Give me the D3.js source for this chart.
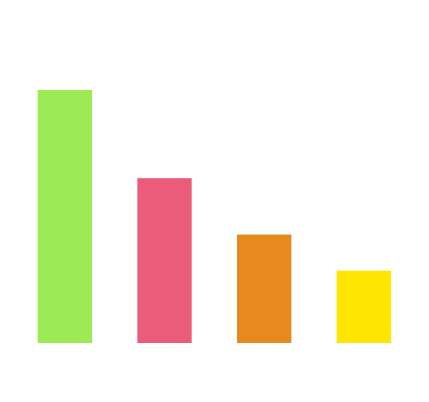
<!DOCTYPE html>
<html>
<head>
<meta charset="utf-8">
<script src="https://cdn.jsdelivr.net/npm/d3@7"></script>
<style>
  body { margin: 0; background: #fff; }
</style>
</head>
<body>
<svg id="chart"></svg>
<script>
// data
var categories = ["A", "B", "C", "D"];
var values = [35, 22.8, 15, 10];
var colors = ["#9ceb54", "#eb5b7a", "#e6891e", "#ffe500"];

var width = 429, height = 402;

var svg = d3.select("#chart")
    .attr("width", width)
    .attr("height", height);

var x = d3.scaleBand()
    .domain(categories)
    .range([14.7, 414])
    .paddingInner(0.455)
    .paddingOuter(0.23);

var y = d3.scaleLinear()
    .domain([0, 35])
    .range([343, 90]);

// bars
svg.selectAll("rect.bar")
    .data(values)
    .join("rect")
    .attr("class", "bar")
    .attr("x", (d, i) => x(categories[i]))
    .attr("y", (d) => y(d))
    .attr("width", x.bandwidth())
    .attr("height", (d) => y(0) - y(d))
    .attr("fill", (d, i) => colors[i]);
</script>
</body>
</html>
